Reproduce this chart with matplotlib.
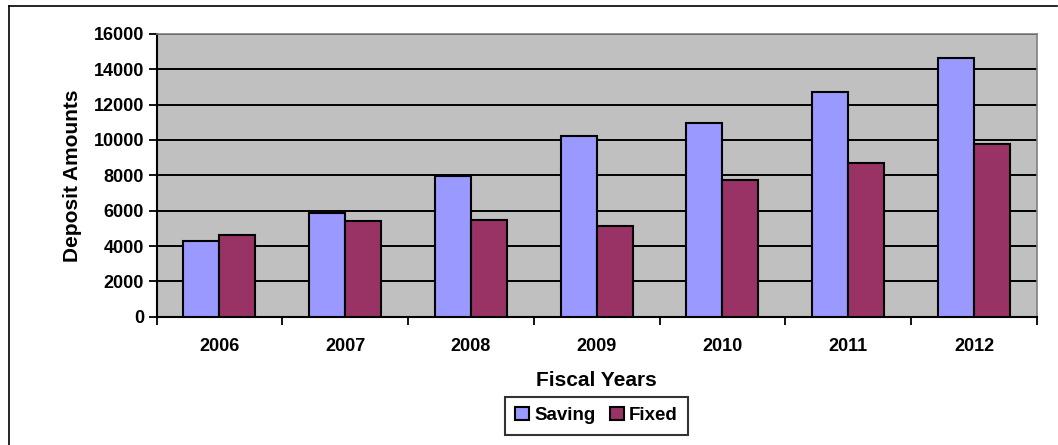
import numpy as np
import matplotlib.pyplot as plt
from matplotlib.lines import Line2D

# values
years = ['2006', '2007', '2008', '2009', '2010', '2011', '2012']
saving = [4300, 5850, 7980, 10250, 10980, 12720, 14620]
fixed = [4600, 5400, 5480, 5150, 7720, 8720, 9780]

plt.rcParams['font.family'] = ['Liberation Sans', 'DejaVu Sans']
plt.rcParams['font.weight'] = 'bold'

fig = plt.figure(figsize=(10.58, 4.45), dpi=100)
ax = fig.add_axes([0.148, 0.288, 0.832, 0.636])
ax.set_facecolor('#C0C0C0')

x = np.arange(len(years))
w = 0.286
ax.bar(x - w / 2, saving, w, color='#9999FF', edgecolor='black', linewidth=1.5,
       label='Saving', zorder=3)
ax.bar(x + w / 2, fixed, w, color='#993366', edgecolor='black', linewidth=1.5,
       label='Fixed', zorder=3)

ax.set_xlim(-0.5, len(years) - 0.5)
ax.set_ylim(0, 16000)
ax.set_yticks(range(0, 16001, 2000))
ax.yaxis.grid(True, color='black', linewidth=1.4, zorder=1)
ax.set_axisbelow(True)

ax.set_xticks(x)
ax.set_xticklabels(years)
ax.set_xticks(np.arange(-0.5, len(years), 1), minor=True)
ax.tick_params(axis='x', which='major', length=0, pad=15, labelsize=13)
ax.tick_params(axis='x', which='minor', length=6, width=1.3, direction='out')
ax.tick_params(axis='y', length=6, width=1.3, pad=3, labelsize=13)
for lab in ax.get_xticklabels() + ax.get_yticklabels():
    lab.set_fontweight('bold')

for s in ['left', 'bottom']:
    ax.spines[s].set_color('black')
    ax.spines[s].set_linewidth(1.5)
for s in ['top', 'right']:
    ax.spines[s].set_color('#808080')
    ax.spines[s].set_linewidth(1.2)

ax.set_xlabel('Fiscal Years', fontsize=15, fontweight='bold', labelpad=12)
ax.set_ylabel('Deposit Amounts', fontsize=15, fontweight='bold', labelpad=8)

leg = ax.legend(loc='upper center', bbox_to_anchor=(0.5, -0.283), ncol=2,
                frameon=True, fancybox=False, prop={'size': 13.5, 'weight': 'bold'},
                handlelength=0.7, handleheight=0.7, handletextpad=0.3,
                columnspacing=0.8, borderpad=0.55, borderaxespad=0)
leg.get_frame().set_edgecolor('black')
leg.get_frame().set_linewidth(1.5)

# chart border (only top and left edges show in the original crop)
bx = 8.5 / 1058
by = 1 - 5.5 / 445
fig.add_artist(Line2D([bx, bx], [0, by], transform=fig.transFigure,
                      color='black', linewidth=1.2))
fig.add_artist(Line2D([bx, 1057 / 1058], [by, by], transform=fig.transFigure,
                      color='black', linewidth=1.2))

fig.savefig('out.png', dpi=100)
